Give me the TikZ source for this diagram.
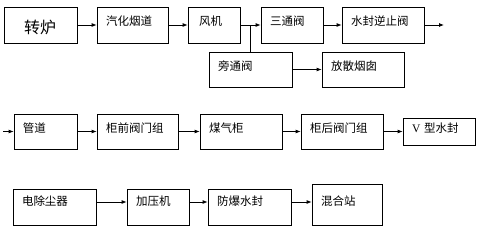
\documentclass[tikz,border=0pt]{standalone}
\usepackage{fontspec}
\setmainfont{Liberation Serif}
\newfontfamily\cjk{Noto Sans CJK SC}
\usetikzlibrary{positioning, arrows.meta}

\begin{document}
\begin{tikzpicture}[x=1pt, y=-1pt,
    box/.style={draw, line width=0.8pt, align=left, inner xsep=9pt, inner ysep=0pt, minimum height=36pt, text depth=8pt, font=\cjk\fontsize{11.5}{13}\selectfont},
    arr/.style={arrows = {-Latex[width=4pt, length=5pt]}, line width=0.8pt}]
      \useasboundingbox (0,0) rectangle (477,230);

      % First row: converter to water seal
      \node[box, text width=33pt, inner xsep=20pt, text height=21pt, text depth=3pt, font=\cjk\fontsize{16}{18}\selectfont] at (40.5,25) (zhuanlu) {转炉};
      \node[box, text width=53pt] at (132.5,25) (qihua) {汽化烟道};
      \node[box, text width=30pt, inner xsep=11pt] at (214,25) (fengji) {风机};
      \node[box, text width=44pt] at (292,25) (santong) {三通阀};
      \node[box, text width=64pt] at (383,25) (shuifeng) {水封逆止阀};
      \coordinate (out) at (444,25);
      \node[box, text width=65pt, minimum height=35pt] at (250.5,69.5) (pangtong) {旁通阀};
      \node[box, text width=64pt, minimum height=35pt] at (363,69.5) (fangsan) {放散烟囱};

      % Second row: gas holder
      \coordinate (in) at (3,131.5);
      \node[box, text width=45pt, minimum height=35pt] at (45.5,131.5) (guandao) {管道};
      \node[box, text width=63pt, minimum height=35pt] at (137.5,131.5) (guiqian) {柜前阀门组};
      \node[box, text width=64pt, minimum height=35pt] at (241,131.5) (meiqigui) {煤气柜};
      \node[box, text width=64pt, minimum height=35pt] at (342,131.5) (guihou) {柜后阀门组};
      \node[box, text width=54pt, minimum height=27pt] at (439,131.5) (vxing) {\textrm{V} 型水封};

      % Third row: to the mixing station
      \node[box, text width=65pt, text depth=13pt] at (54.5,207) (chuchen) {电除尘器};
      \node[box, text width=44pt, text depth=13pt] at (158,207) (jiaya) {加压机};
      \node[box, text width=65pt, text depth=13pt] at (249.5,207) (fangbao) {防爆水封};
      \node[box, text width=52pt, minimum height=41pt] at (347,204.5) (hunhe) {混合站};

      \draw[arr] (zhuanlu) -- (qihua);
      \draw[arr] (qihua) -- (fengji);
      \draw[arr] (fengji) -- (santong);
      \draw[arr] (santong) -- (shuifeng);
      \draw[arr] (shuifeng) -- (out);
      \draw[line width=0.8pt] (pangtong.north) -- (pangtong.north |- fengji.east);
      \draw[arr] (pangtong) -- (fangsan);

      \draw[arr] (in) -- (guandao);
      \draw[arr] (guandao) -- (guiqian);
      \draw[arr] (guiqian) -- (meiqigui);
      \draw[arr] (meiqigui) -- (guihou);
      \draw[arr] (guihou) -- (vxing);

      \draw[arr] ([yshift=5pt]chuchen.east) -- ([yshift=5pt]jiaya.west);
      \draw[arr] ([yshift=5pt]jiaya.east) -- ([yshift=5pt]fangbao.west);
      \draw[arr] ([yshift=5pt]fangbao.east) -- ([yshift=5pt]fangbao.east -| hunhe.west);
    \end{tikzpicture}
\end{document}
